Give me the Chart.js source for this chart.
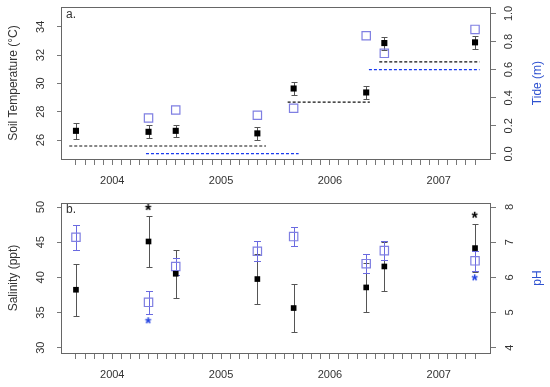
<!DOCTYPE html>
<html><head><meta charset="utf-8">
<script src="https://cdn.jsdelivr.net/npm/chart.js@4.4.0/dist/chart.umd.min.js"></script>
<style>
html,body{margin:0;padding:0;background:#fff;}
canvas{display:block;}
</style></head><body>
<canvas id="top" width="550" height="193"></canvas>
<canvas id="bot" width="550" height="194"></canvas>
<script>
// ---- x positions (months from first tick) ----
const sampleMonth = [0, 8, 11, 20, 24, 32, 34, 44];
const monthTicks = [0,1,2,3,4,5,6,7,8,9,10,11,12,13,14,15,16,17,18,19,20,21,22,23,24,25,26,27,28,29,30,31,32,33,34,35,36,37,38,39,40,41,42,43,44];
const yearTickMonth = [4, 16, 28, 40];
const yearLabels = ['2004', '2005', '2006', '2007'];

// ---- panel a ----
const soilTemp    = [26.65, 26.58, 26.65, 26.47, 29.64, 29.36, 32.85, 32.90];
const soilTempErr = [0.56, 0.45, 0.44, 0.48, 0.49, 0.48, 0.46, 0.45];
const tide        = [null, 0.256, 0.313, 0.275, 0.325, 0.841, 0.716, 0.886];
const tempMeanStart = [-0.74, 23.34, 33.44];
const tempMeanEnd   = [20.95, 32.40, 44.50];
const tempMeanLevel = [25.58, 28.68, 31.52];
const tideMeanStart = [7.72, 32.30];
const tideMeanEnd   = [24.55, 44.50];
const tideMeanLevel = [0.002, 0.600];
const tempTicks = [26, 28, 30, 32, 34];
const tideTicks = [0, 0.2, 0.4, 0.6, 0.8, 1.0];

// ---- panel b ----
const salinity    = [38.24, 45.10, 40.51, 39.76, 35.64, 38.57, 41.55, 44.16];
const salinityErr = [3.70, 3.60, 3.40, 3.50, 3.46, 3.50, 3.45, 3.40];
const pH          = [7.14, 5.29, 6.31, 6.74, 7.16, 6.39, 6.76, 6.47];
const pHErr       = [0.35, 0.32, 0.23, 0.28, 0.28, 0.28, 0.27, 0.28];
const salinitySig = [null, 50.0, null, null, null, null, null, 48.9];
const pHSig       = [null, 4.78, null, null, null, null, null, 6.00];
const salTicks = [30, 35, 40, 45, 50];
const pHTicks  = [4, 5, 6, 7, 8];

const FONT = "'Liberation Sans', Arial, sans-serif";
Chart.defaults.font.family = FONT;
Chart.defaults.color = '#333';

const BLUE_T = '#2f52d0';
const BLUE_SQ = '#7f7fe2';
const BLUE_ERR = '#6a6ae0';
const BLUE_DASH = '#1a3cf0';

function pts(xs, ys) {
  const out = [];
  xs.forEach((x, i) => { if (ys[i] != null) out.push({x: x, y: ys[i]}); });
  return out;
}
function segs(starts, ends, levels, axis, color) {
  return starts.map((s, i) => ({
    type: 'line', yAxisID: axis, showLine: true,
    data: [{x: s, y: levels[i]}, {x: ends[i], y: levels[i]}],
    borderColor: color, borderWidth: 1.1, borderDash: [3, 2],
    pointRadius: 0, fill: false
  }));
}
function starImg(color) {
  const c = document.createElement('canvas');
  c.width = 14; c.height = 14;
  const g = c.getContext('2d');
  g.font = 'bold 16px ' + FONT;
  g.fillStyle = color;
  const m = g.measureText('*');
  const w = m.actualBoundingBoxRight + m.actualBoundingBoxLeft;
  const h = m.actualBoundingBoxAscent + m.actualBoundingBoxDescent;
  g.fillText('*', 7 - w / 2 + m.actualBoundingBoxLeft, 7 + h / 2 - m.actualBoundingBoxDescent);
  return c;
}

function xScale() {
  return {
    type: 'linear', min: -1.65, max: 45.65,
    afterBuildTicks: s => { s.ticks = monthTicks.map(v => ({value: v})); },
    afterFit: s => { s.height = 34; s.paddingLeft = 0; s.paddingRight = 0; },
    ticks: {
      autoSkip: false, minRotation: 0, maxRotation: 0, padding: 9.5,
      font: {size: 11}, color: '#333',
      callback: v => { const k = yearTickMonth.indexOf(v); return k >= 0 ? yearLabels[k] : ''; }
    },
    grid: {drawOnChartArea: false, drawTicks: true, tickLength: 6, color: '#777', tickColor: '#777'},
    border: {display: false}
  };
}
function yScale(pos, min, max, tickVals, fmt, width, tl, pad, title) {
  return {
    type: 'linear', position: pos, min: min, max: max,
    afterBuildTicks: s => { s.ticks = tickVals.map(v => ({value: v})); },
    afterFit: s => { s.width = width; s.paddingTop = 0; s.paddingBottom = 0; },
    ticks: {
      minRotation: 90, maxRotation: 90, crossAlign: 'center', padding: pad,
      font: {size: 11}, color: '#333', callback: fmt
    },
    grid: {drawOnChartArea: false, drawTicks: true, tickLength: tl, color: '#777', tickColor: '#777'},
    border: {display: false},
    title: title ? {display: true, text: title, color: '#333', font: {size: 12}, padding: {top: 6, bottom: 0}} : {display: false}
  };
}

function decorPlugin(panelLabel, labelY, rightTitle, bars) {
  return {
    id: 'decor',
    beforeDatasetsDraw(chart) {
      const ctx = chart.ctx, a = chart.chartArea, xs = chart.scales.x;
      ctx.save();
      ctx.strokeStyle = '#666'; ctx.lineWidth = 1;
      ctx.strokeRect(Math.round(a.left) + 0.5, Math.round(a.top) + 0.5,
                     Math.round(a.right - a.left), Math.round(a.bottom - a.top));
      bars.forEach(sp => {
        const ys = chart.scales[sp.axis];
        ctx.strokeStyle = sp.color; ctx.lineWidth = 1;
        sp.vals.forEach((v, i) => {
          if (v == null) return;
          const px = Math.round(xs.getPixelForValue(sampleMonth[i])) + 0.5;
          const y1 = Math.round(ys.getPixelForValue(v - sp.errs[i])) + 0.5;
          const y2 = Math.round(ys.getPixelForValue(v + sp.errs[i])) + 0.5;
          ctx.beginPath();
          ctx.moveTo(px, y1); ctx.lineTo(px, y2);
          ctx.moveTo(px - sp.cap, y1); ctx.lineTo(px + sp.cap, y1);
          ctx.moveTo(px - sp.cap, y2); ctx.lineTo(px + sp.cap, y2);
          ctx.stroke();
        });
      });
      ctx.restore();
    },
    afterDraw(chart) {
      const ctx = chart.ctx, a = chart.chartArea;
      ctx.save();
      ctx.fillStyle = '#333';
      ctx.font = '12px ' + FONT;
      ctx.textAlign = 'left'; ctx.textBaseline = 'middle';
      ctx.fillText(panelLabel, a.left + 5, labelY);
      ctx.translate(538, (a.top + a.bottom) / 2);
      ctx.rotate(-Math.PI / 2);
      ctx.textAlign = 'center';
      ctx.fillStyle = BLUE_T;
      ctx.fillText(rightTitle, 0, 0);
      ctx.restore();
    }
  };
}

const common = {
  responsive: false, animation: false, events: [],
  plugins: {legend: {display: false}, tooltip: {enabled: false}}
};

// ---- top chart ----
new Chart(document.getElementById('top'), {
  type: 'scatter',
  data: {
    datasets: [
      {data: pts(sampleMonth, soilTemp), yAxisID: 'y', pointStyle: 'rect', pointRadius: 4.3,
       backgroundColor: '#000', borderColor: '#000', borderWidth: 0},
      {data: pts(sampleMonth, tide), yAxisID: 'y2', pointStyle: 'rect', pointRadius: 5.9,
       backgroundColor: 'rgba(0,0,0,0)', borderColor: BLUE_SQ, borderWidth: 1.2},
      ...segs(tempMeanStart, tempMeanEnd, tempMeanLevel, 'y', '#111'),
      ...segs(tideMeanStart, tideMeanEnd, tideMeanLevel, 'y2', BLUE_DASH)
    ]
  },
  options: Object.assign({}, common, {
    layout: {padding: {top: 7, left: 0, right: 0, bottom: 0}},
    scales: {
      x: xScale(),
      y: yScale('left', 24.66, 35.39, tempTicks, v => String(v), 61, 4, 10, 'Soil Temperature (°C)'),
      y2: yScale('right', -0.036, 1.045, tideTicks, v => v.toFixed(1), 60, 6, 5, null)
    }
  }),
  plugins: [decorPlugin('a.', 15, 'Tide (m)', [
    {axis: 'y', vals: soilTemp, errs: soilTempErr, color: '#555', cap: 3}
  ])]
});

// ---- bottom chart ----
new Chart(document.getElementById('bot'), {
  type: 'scatter',
  data: {
    datasets: [
      {data: pts(sampleMonth, salinity), yAxisID: 'y', pointStyle: 'rect', pointRadius: 4,
       backgroundColor: '#000', borderColor: '#000', borderWidth: 0},
      {data: pts(sampleMonth, pH), yAxisID: 'y2', pointStyle: 'rect', pointRadius: 5.9,
       backgroundColor: 'rgba(0,0,0,0)', borderColor: BLUE_SQ, borderWidth: 1.2},
      {data: pts(sampleMonth, salinitySig), yAxisID: 'y', pointStyle: starImg('#000'), pointRadius: 6},
      {data: pts(sampleMonth, pHSig), yAxisID: 'y2', pointStyle: starImg('#1f3fe0'), pointRadius: 6}
    ]
  },
  options: Object.assign({}, common, {
    layout: {padding: {top: 10, left: 0, right: 0, bottom: 0}},
    scales: {
      x: xScale(),
      y: yScale('left', 29.25, 50.57, salTicks, v => String(v), 61, 4, 10, 'Salinity (ppt)'),
      y2: yScale('right', 3.85, 8.114, pHTicks, v => String(v), 60, 6, 11, null)
    }
  }),
  plugins: [decorPlugin('b.', 16.5, 'pH', [
    {axis: 'y', vals: salinity, errs: salinityErr, color: '#555', cap: 3},
    {axis: 'y2', vals: pH, errs: pHErr, color: BLUE_ERR, cap: 3.5}
  ])]
});
</script>
</body></html>
